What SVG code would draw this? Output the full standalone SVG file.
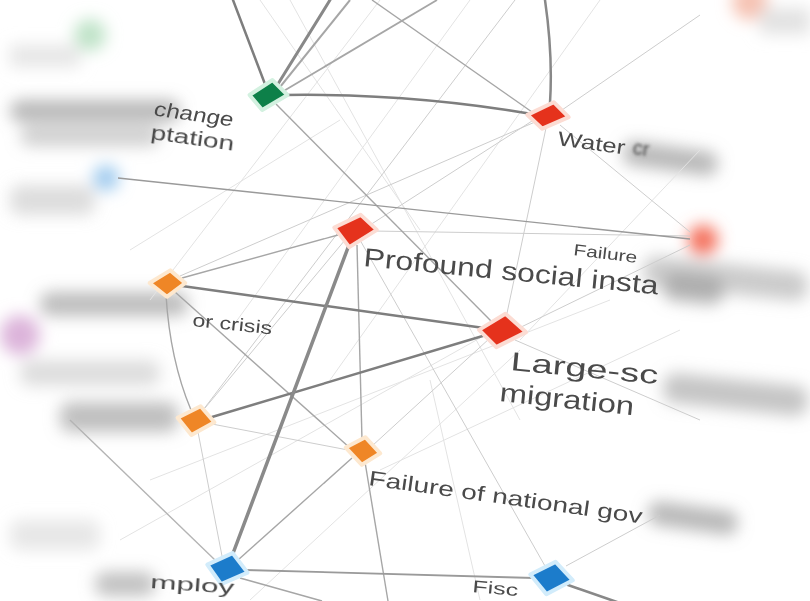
<svg xmlns="http://www.w3.org/2000/svg" width="810" height="601" viewBox="0 0 810 601">
<defs>
<filter id="b8" x="-50%" y="-100%" width="200%" height="300%"><feGaussianBlur stdDeviation="8"/></filter>
<filter id="b2" x="-20%" y="-50%" width="140%" height="200%"><feGaussianBlur stdDeviation="1.6"/></filter>
<filter id="b05" x="-10%" y="-20%" width="120%" height="140%"><feGaussianBlur stdDeviation="0.45"/></filter>
</defs>
<style>
.strong{stroke:#7e7e7e;stroke-width:2.5;fill:none;stroke-linecap:round}
.mid{stroke:#a6a6a6;stroke-width:1.4;fill:none}
.light{stroke:#cdcdcd;stroke-width:1;fill:none}
.faint{stroke:#e3e3e3;stroke-width:1;fill:none}
.lbl{font-family:"Liberation Sans",Arial,sans-serif;fill:#4a4a4a}
.node{stroke-linejoin:round;stroke-width:3.5;filter:url(#b05)}
.green{fill:#0f8049;stroke:#d3f1e0}
.red{fill:#e5321f;stroke:#fcdcd3}
.orange{fill:#ef8626;stroke:#fde8cf}
.blue{fill:#1f7ccb;stroke:#d2ecfb}
</style>
<rect width="810" height="601" fill="#ffffff"/>

<!-- blurred background labels and nodes -->
<g id="blurred" filter="url(#b8)">
  <circle cx="90" cy="35" r="16" fill="#bfe3c8"/>
  <rect x="10" y="45" width="70" height="22" fill="#e6e6e6"/>
  <rect x="10" y="100" width="170" height="22" rx="10" fill="#9a9a9a" opacity="0.7"/>
  <rect x="20" y="126" width="140" height="20" rx="10" fill="#a8a8a8" opacity="0.55"/>
  <circle cx="106" cy="178" r="13" fill="#9fcaee"/>
  <rect x="10" y="185" width="85" height="30" rx="10" fill="#cfcfcf" opacity="0.7"/>
  <rect x="40" y="292" width="148" height="24" rx="10" fill="#9a9a9a" opacity="0.65"/>
  <circle cx="20" cy="335" r="20" fill="#dcb4da"/>
  <rect x="20" y="360" width="140" height="26" rx="10" fill="#c6c6c6" opacity="0.6"/>
  <rect x="60" y="402" width="118" height="30" rx="10" fill="#9c9c9c" opacity="0.65"/>
  <rect x="10" y="520" width="90" height="30" rx="10" fill="#dddddd" opacity="0.7"/>
  <rect x="95" y="572" width="60" height="24" rx="10" fill="#a0a0a0" opacity="0.65"/>
  <circle cx="750" cy="2" r="18" fill="#f6c2b2"/>
  <rect x="760" y="8" width="50" height="26" fill="#e2e2e2"/>
  <rect x="625" y="140" width="95" height="24" rx="10" fill="#9a9a9a" opacity="0.7" transform="rotate(8 625 140)"/>
  <circle cx="703" cy="240" r="15" fill="#f4705b"/>
  <rect x="645" y="255" width="165" height="30" rx="12" fill="#b5b5b5" opacity="0.7" transform="rotate(6 645 255)"/>
  <rect x="665" y="272" width="60" height="28" rx="12" fill="#9a9a9a" opacity="0.7" transform="rotate(6 665 272)"/>
  <rect x="665" y="372" width="145" height="30" rx="12" fill="#a6a6a6" opacity="0.65" transform="rotate(6 665 372)"/>
  <rect x="650" y="500" width="90" height="24" rx="10" fill="#9a9a9a" opacity="0.7" transform="rotate(8 650 500)"/>
</g>

<!-- connectors -->
<g id="connectors">
  <path class="faint" d="M290,0 L520,420"/>
  <path class="faint" d="M470,0 L230,330"/>
  <path class="faint" d="M380,0 L150,300"/>
  <path class="faint" d="M600,0 L330,380"/>
  <path class="faint" d="M120,540 L480,338"/>
  <path class="faint" d="M150,480 L610,300"/>
  <path class="faint" d="M250,600 L520,350"/>
  <path class="faint" d="M480,600 L430,380"/>
  <path class="faint" d="M680,330 L380,470"/>
  <path class="faint" d="M700,150 L520,340"/>
  <path class="faint" d="M260,0 L420,230"/>
  <path class="faint" d="M130,250 L340,120"/>
  <path class="light" d="M203,410 L515,0"/>
  <path class="light" d="M180,276 L535,122"/>
  <path class="light" d="M562,110 L700,15"/>
  <path class="light" d="M560,125 L690,232"/>
  <path class="light" d="M532,121 L370,225"/>
  <path class="light" d="M546,128 L506,318"/>
  <path class="light" d="M372,231 L690,236"/>
  <path class="light" d="M372,446 L490,338"/>
  <path class="light" d="M212,424 L348,450"/>
  <path class="light" d="M198,432 L222,556"/>
  <path class="light" d="M566,566 L660,515"/>
  <path class="light" d="M515,330 L690,245"/>
  <path class="light" d="M205,408 L345,240"/>
  <path class="light" d="M360,240 L545,566"/>
  <path class="light" d="M515,340 L700,420"/>
  <path class="mid" d="M372,0 L532,112"/>
  <path class="mid" d="M276,104 L492,322"/>
  <path class="mid" d="M182,278 L338,235"/>
  <path class="mid" d="M175,292 L350,448"/>
  <path class="mid" d="M166,295 Q170,360 191,410"/>
  <path class="mid" d="M357,245 L362,440"/>
  <path class="mid" d="M118,178 L690,239" style="stroke:#9a9a9a"/>
  <path class="mid" d="M352,458 L238,560"/>
  <path class="mid" d="M365,462 L388,601"/>
  <path class="mid" d="M240,578 L322,601"/>
  <path class="mid" d="M215,560 L70,420" style="stroke:#b4b4b4"/>
  <path class="mid" d="M350,0 L276,92" style="stroke-width:2"/>
  <path class="mid" d="M437,0 L282,92" style="stroke-width:1.8"/>
  <path class="strong" d="M233,0 L268,92"/>
  <path class="strong" d="M330,0 L273,92" style="stroke-width:3;stroke:#888"/>
  <path class="strong" d="M284,95 Q410,93 532,114"/>
  <path class="strong" d="M545,0 Q553,55 550,103" style="stroke:#888"/>
  <path class="strong" d="M182,286 L484,328"/>
  <path class="strong" d="M212,417 L486,335"/>
  <path class="strong" d="M349,245 L232,556" style="stroke-width:3.5;stroke:#8a8a8a"/>
  <path class="strong" d="M245,570 L534,578" style="stroke-width:1.8;stroke:#9a9a9a"/>
  <path class="strong" d="M568,585 L640,610" style="stroke:#888"/>
</g>

<!-- nodes -->
<g id="node-climate"><polygon class="node green" points="252,95 272,82 285,95 263,108" transform="translate(268.5 95) scale(1.15) translate(-268.5 -95)"/>
  <text class="lbl" font-size="20" x="165" y="117" textLength="80" lengthAdjust="spacingAndGlyphs" transform="rotate(8 165 117) skewX(-6)">change</text>
  <text class="lbl" font-size="20" x="150" y="139" textLength="84" lengthAdjust="spacingAndGlyphs" transform="rotate(8 150 139)" filter="url(#b05)">ptation</text>
</g>
<g id="node-water"><polygon class="node red" points="530,115 553,104 566,117 543,127" transform="translate(548 116) scale(1.15) translate(-548 -116)"/>
  <text class="lbl" font-size="20" x="557" y="145" textLength="68" lengthAdjust="spacingAndGlyphs" transform="rotate(8 557 145)">Water</text>
  <text class="lbl" font-size="20" x="632" y="154" transform="rotate(8 632 154)" filter="url(#b2)">cr</text>
</g>
<g id="node-social"><polygon class="node red" points="337,228 360,217 374,230 350,245" transform="translate(355 231) scale(1.15) translate(-355 -231)"/>
  <text class="lbl" font-size="26" x="363" y="266" textLength="296" lengthAdjust="spacingAndGlyphs" transform="rotate(5.5 363 266)">Profound social insta</text>
</g>
<g id="node-governance-failure">
  <text class="lbl" font-size="16" x="573" y="255" textLength="64" lengthAdjust="spacingAndGlyphs" transform="rotate(7 573 255)">Failure</text>
</g>
<g id="node-migration"><polygon class="node red" points="482,330 505,316 523,332 497,345" transform="translate(502 331) scale(1.15) translate(-502 -331)"/>
  <text class="lbl" font-size="26" x="510" y="370" textLength="148" lengthAdjust="spacingAndGlyphs" transform="rotate(5.5 510 370)">Large-sc</text>
  <text class="lbl" font-size="26" x="499" y="401" textLength="135" lengthAdjust="spacingAndGlyphs" transform="rotate(6 499 401)">migration</text>
</g>
<g id="node-crisis"><polygon class="node orange" points="152,283 170,272 183,283 167,295" transform="translate(168 283) scale(1.15) translate(-168 -283)"/>
  <text class="lbl" font-size="18" x="192" y="326" textLength="80" lengthAdjust="spacingAndGlyphs" transform="rotate(6 192 326)">or crisis</text>
</g>
<g id="node-conflict"><polygon class="node orange" points="180,418 200,408 212,422 192,433" transform="translate(196 420) scale(1.15) translate(-196 -420)"/></g>
<g id="node-national"><polygon class="node orange" points="348,448 365,439 378,453 362,463" transform="translate(363 451) scale(1.15) translate(-363 -451)"/>
  <text class="lbl" font-size="21" x="368" y="485" textLength="276" lengthAdjust="spacingAndGlyphs" transform="rotate(8 368 485)">Failure of national gov</text>
</g>
<g id="node-unemployment"><polygon class="node blue" points="210,565 232,555 245,572 222,582" transform="translate(228 568) scale(1.15) translate(-228 -568)"/>
  <text class="lbl" font-size="18" x="150" y="588" textLength="84" lengthAdjust="spacingAndGlyphs" transform="rotate(4 150 588)" filter="url(#b05)">mploy</text>
</g>
<g id="node-fiscal"><polygon class="node blue" points="533,575 555,564 570,580 547,592" transform="translate(551 578) scale(1.15) translate(-551 -578)"/>
  <text class="lbl" font-size="17" x="472" y="592" textLength="46" lengthAdjust="spacingAndGlyphs" transform="rotate(5 472 592)">Fisc</text>
</g>
</svg>
